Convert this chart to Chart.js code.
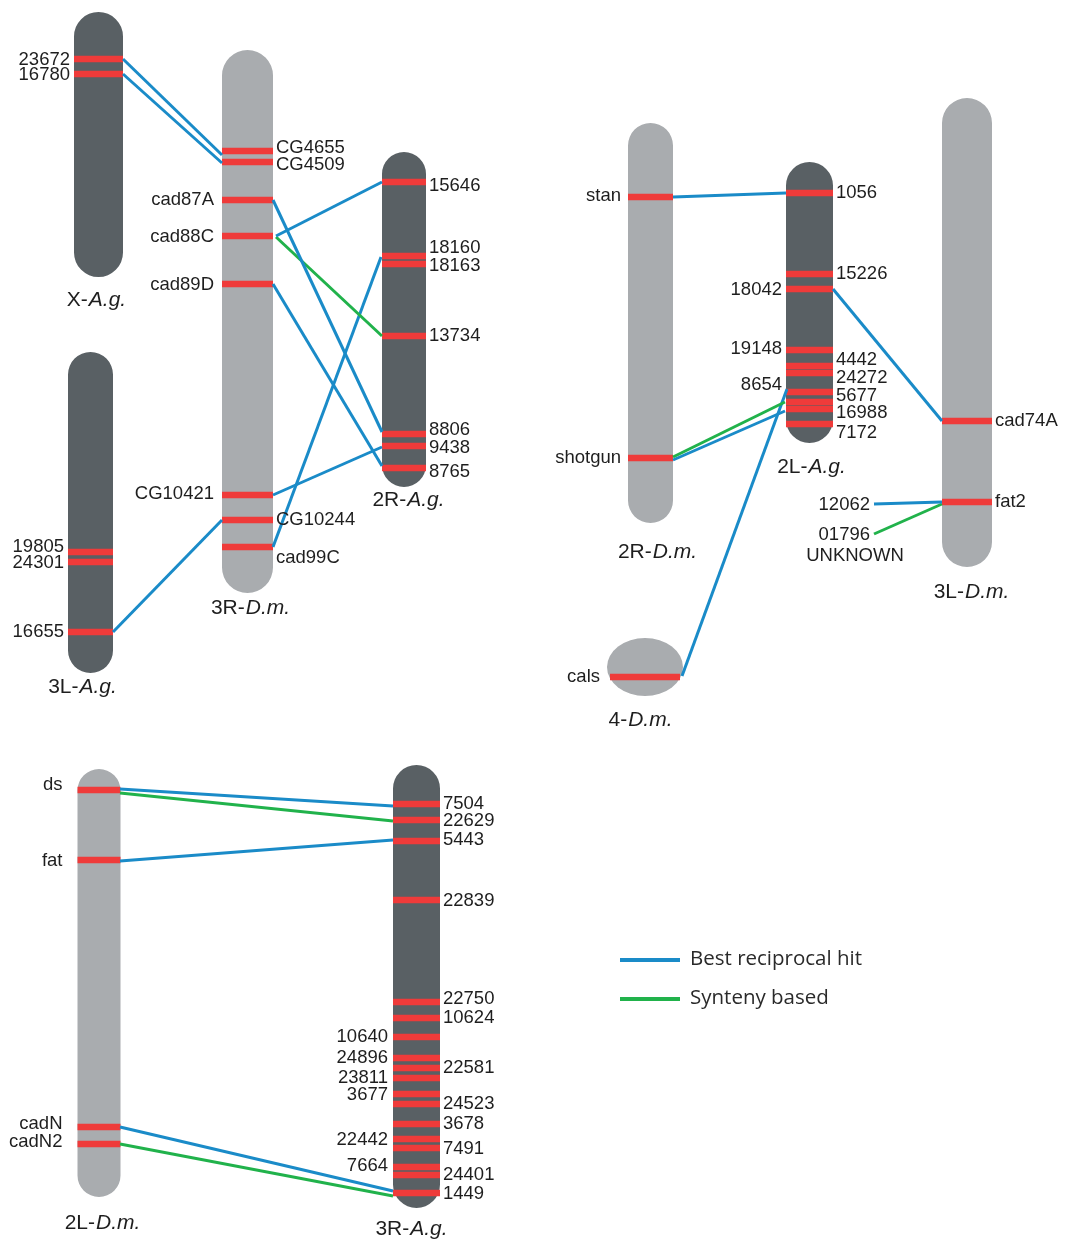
<!DOCTYPE html>
<html><head><meta charset="utf-8">
<script src="https://cdn.jsdelivr.net/npm/chart.js@4.4.1/dist/chart.umd.min.js"></script>
<style>html,body{margin:0;padding:0;background:#fff}canvas{display:block}</style>
</head><body>
<canvas id="c" width="1068" height="1242" style="width:1068px;height:1242px"></canvas>
<script>
// ---- chromosomes ----
const chromPrefix  = ['X-', '3R-', '3L-', '2R-', '2R-', '2L-', '3L-', '4-', '2L-', '3R-'];
const chromSpecies = ['A.g.', 'D.m.', 'A.g.', 'A.g.', 'D.m.', 'A.g.', 'D.m.', 'D.m.', 'D.m.', 'A.g.'];
const chromX       = [98.5, 247.5, 90.5, 404, 650.5, 809.5, 967, 645, 99, 416.5];
const chromTop     = [12, 50, 352, 152, 123, 162, 98, 638, 769, 765];
const chromBottom  = [277, 593, 673, 487, 523, 443, 567, 696, 1197, 1208];
const chromDark    = [1, 0, 1, 1, 0, 1, 0, 0, 0, 1];
const chromRound   = [1, 1, 1, 1, 1, 1, 1, 0, 1, 1]; // 0 = ellipse (4-D.m.)
const chromTitleX  = [96, 250, 82, 408, 657, 811, 971, 640, 102, 411];
const chromTitleY  = [300, 608, 687, 500, 552, 467, 592, 720, 1223, 1229];

// ---- bands (gene positions) per chromosome ----
const bandPositions = [
  [59, 74],
  [151, 162, 200, 236, 284, 495, 520, 547],
  [552, 562, 632],
  [182, 256, 264, 336, 434, 446, 468],
  [197, 458],
  [193, 274, 289, 350, 366, 373, 392, 402, 409, 424],
  [421, 502],
  [677],
  [790, 860, 1127, 1144],
  [804, 820, 841, 900, 1002, 1018, 1037, 1058, 1068, 1078, 1094, 1104, 1124, 1139, 1148, 1167, 1175, 1193]
];

// ---- gene labels ----
const labelText  = ['23672','16780',
  'CG4655','CG4509','cad87A','cad88C','cad89D','CG10421','CG10244','cad99C',
  '19805','24301','16655',
  '15646','18160','18163','13734','8806','9438','8765',
  'stan','shotgun',
  '1056','15226','18042','19148','4442','24272','8654','5677','16988','7172',
  'cad74A','fat2',
  'cals',
  'ds','fat','cadN','cadN2',
  '7504','22629','5443','22839','22750','10624','10640','24896','22581','23811','3677','24523','3678','22442','7491','7664','24401','1449'];
const labelChrom = [0,0, 1,1,1,1,1,1,1,1, 2,2,2, 3,3,3,3,3,3,3, 4,4,
  5,5,5,5,5,5,5,5,5,5, 6,6, 7, 8,8,8,8,
  9,9,9,9,9,9,9,9,9,9,9,9,9,9,9,9,9,9];
const labelSide  = ['L','L', 'R','R','L','L','L','L','R','R', 'L','L','L', 'R','R','R','R','R','R','R', 'L','L',
  'R','R','L','L','R','R','L','R','R','R', 'R','R', 'L', 'L','L','L','L',
  'R','R','R','R','R','R','L','L','R','L','L','R','R','L','R','L','R','R'];
const labelY     = [60,75, 148,165,200,237,285,494,520,558, 547,563,632, 186,248,266,336,430,448,472, 196,458,
  193,274,290,349,360,378,385,396,413,433, 421,502, 677, 785,861,1124,1142,
  804,821,840,901,999,1018,1037,1058,1068,1078,1095,1104,1124,1140,1149,1166,1175,1194];
const chromGapL  = [4, 8, 4, 4, 7, 4, 5, 7, 15, 5];

// ---- unmapped genes ----
const freeText = ['12062', '01796', 'UNKNOWN'];
const freeX    = [870, 870, 855];
const freeY    = [505, 535, 556];
const freeAlign = ['right', 'right', 'center'];

// ---- connections ----
const linkX1 = [123, 123, 273, 273, 276, 276, 273, 273, 222, 673, 833, 673, 673, 682, 874, 874, 120, 120, 120, 120, 120];
const linkY1 = [59, 74, 200, 284, 236, 237, 495, 547, 520, 197, 289, 457, 460, 676, 504, 534, 789, 793, 861, 1127, 1144];
const linkX2 = [222, 222, 382, 382, 382, 382, 382, 381, 113, 786, 942, 785, 785, 787, 942, 942, 393, 393, 393, 393, 393];
const linkY2 = [155, 163, 432, 466, 182, 336, 447, 257, 632, 193, 421, 402, 411, 389, 502, 504, 806, 821, 840, 1191, 1196];
const linkType = ['B','B','B','B','B','S','B','B','B','B','B','S','B','B','B','S','B','S','B','B','S'];

// ---- legend ----
const legendText = ['Best reciprocal hit', 'Synteny based'];
const legendType = ['B', 'S'];
const legendY = [960, 999];

const DARK = '#596064', LIGHT = '#a9acaf', RED = '#ef3b3a', BLUE = '#1a8bc8', GREEN = '#21b24b', TXT = '#1e1e1e';
const colorOf = t => t === 'B' ? BLUE : GREEN;
const chromW = [49, 51, 45, 44, 45, 47, 50, 76, 43, 47];

const datasets = [];
chromX.forEach((x, i) => {
  if (!chromRound[i]) return;
  const r = chromW[i] / 2;
  datasets.push({ type: 'line', data: [{x, y: chromTop[i] + r}, {x, y: chromBottom[i] - r}],
    borderColor: chromDark[i] ? DARK : LIGHT, borderWidth: chromW[i], borderCapStyle: 'round',
    pointRadius: 0, order: 3 });
});
bandPositions.forEach((arr, i) => {
  const half = chromRound[i] ? chromW[i] / 2 : chromW[i] / 2 - 3;
  arr.forEach(y => {
    datasets.push({ type: 'line', data: [{x: chromX[i] - half, y}, {x: chromX[i] + half, y}],
      borderColor: RED, borderWidth: 6.5, borderCapStyle: 'butt', pointRadius: 0, order: 2 });
  });
});
linkX1.forEach((x1, i) => {
  datasets.push({ type: 'line', data: [{x: x1, y: linkY1[i]}, {x: linkX2[i], y: linkY2[i]}],
    borderColor: colorOf(linkType[i]), borderWidth: 3, borderCapStyle: 'butt', pointRadius: 0, order: 1 });
});
legendY.forEach((y, i) => {
  datasets.push({ type: 'line', data: [{x: 620, y}, {x: 680, y}],
    borderColor: colorOf(legendType[i]), borderWidth: 4, pointRadius: 0, order: 1 });
});

const LABEL_FONT = '18.5px Arial, "Liberation Sans", sans-serif';
const decor = {
  id: 'decor',
  beforeDatasetsDraw(chart) {
    const {ctx, scales: {x: xs, y: ys}} = chart;
    chromX.forEach((x, i) => {
      if (chromRound[i]) return;
      const cx = xs.getPixelForValue(x), cy = ys.getPixelForValue((chromTop[i] + chromBottom[i]) / 2);
      const rx = xs.getPixelForValue(x + chromW[i] / 2) - cx;
      const ry = Math.abs(ys.getPixelForValue(chromBottom[i]) - ys.getPixelForValue(chromTop[i])) / 2;
      ctx.save(); ctx.fillStyle = chromDark[i] ? DARK : LIGHT;
      ctx.beginPath(); ctx.ellipse(cx, cy, rx, ry, 0, 0, Math.PI * 2); ctx.fill(); ctx.restore();
    });
  },
  afterDatasetsDraw(chart) {
    const {ctx, scales: {x: xs, y: ys}} = chart;
    ctx.save();
    ctx.fillStyle = TXT; ctx.textBaseline = 'middle';
    ctx.font = LABEL_FONT;
    labelText.forEach((t, i) => {
      const c = labelChrom[i];
      const half = chromW[c] / 2;
      let px;
      if (labelSide[i] === 'L') { px = xs.getPixelForValue(chromX[c] - half - chromGapL[c]); ctx.textAlign = 'right'; }
      else { px = xs.getPixelForValue(chromX[c] + half + 3); ctx.textAlign = 'left'; }
      ctx.fillText(t, px, ys.getPixelForValue(labelY[i]));
    });
    freeText.forEach((t, i) => {
      ctx.textAlign = freeAlign[i];
      ctx.fillText(t, xs.getPixelForValue(freeX[i]), ys.getPixelForValue(freeY[i]));
    });
    // chromosome titles
    const regF = '21px Arial, "Liberation Sans", sans-serif';
    const itF = 'italic 21px Arial, "Liberation Sans", sans-serif';
    chromPrefix.forEach((p, i) => {
      ctx.font = regF; const w1 = ctx.measureText(p).width;
      ctx.font = itF; const w2 = ctx.measureText(chromSpecies[i]).width;
      const cx = xs.getPixelForValue(chromTitleX[i]), cy = ys.getPixelForValue(chromTitleY[i]);
      const x0 = cx - (w1 + w2) / 2;
      ctx.textAlign = 'left';
      ctx.font = regF; ctx.fillText(p, x0, cy);
      ctx.font = itF; ctx.fillText(chromSpecies[i], x0 + w1 + 1, cy);
    });
    // legend
    ctx.font = '20.5px "Open Sans", "Noto Sans", sans-serif';
    ctx.fillStyle = '#2a2a2a'; ctx.textAlign = 'left';
    legendText.forEach((t, i) => ctx.fillText(t, xs.getPixelForValue(690), ys.getPixelForValue(legendY[i] - 1)));
    ctx.restore();
  }
};

new Chart(document.getElementById('c'), {
  type: 'line',
  data: { datasets },
  options: {
    responsive: false, animation: false, events: [],
    layout: { padding: 0 },
    elements: { line: { tension: 0, fill: false } },
    plugins: { legend: { display: false }, tooltip: { enabled: false } },
    scales: {
      x: { type: 'linear', min: 0, max: 1068, display: false },
      y: { type: 'linear', min: 0, max: 1242, reverse: true, display: false }
    }
  },
  plugins: [decor]
});
</script>
</body></html>
